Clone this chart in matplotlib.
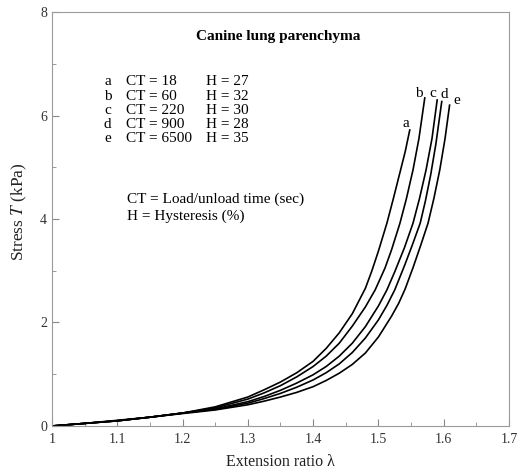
import matplotlib.pyplot as plt
from matplotlib.ticker import MultipleLocator

plt.rcParams['font.family'] = 'Liberation Serif'
plt.rcParams['mathtext.fontset'] = 'stix'

# extension ratio / stress (kPa) for each cycle time
lam_a = [1.00, 1.05, 1.10, 1.15, 1.20, 1.25, 1.30, 1.325, 1.35, 1.375, 1.40, 1.42, 1.44, 1.46,
         1.48, 1.49, 1.50, 1.513, 1.523, 1.533, 1.541, 1.548]
T_a = [0.00, 0.05, 0.11, 0.17, 0.25, 0.37, 0.56, 0.70, 0.85, 1.03, 1.25, 1.50, 1.80, 2.17,
       2.66, 3.00, 3.38, 3.92, 4.40, 4.90, 5.30, 5.72]

lam_b = [1.00, 1.05, 1.10, 1.15, 1.20, 1.25, 1.30, 1.325, 1.35, 1.375, 1.40, 1.42, 1.44, 1.46,
         1.48, 1.495, 1.51, 1.52, 1.533, 1.543, 1.553, 1.562, 1.571]
T_b = [0.00, 0.05, 0.10, 0.17, 0.25, 0.35, 0.52, 0.64, 0.78, 0.95, 1.15, 1.35, 1.60, 1.93,
       2.30, 2.63, 3.05, 3.40, 3.92, 4.40, 4.95, 5.55, 6.34]

lam_c = [1.00, 1.05, 1.10, 1.15, 1.20, 1.25, 1.30, 1.325, 1.35, 1.375, 1.40, 1.42, 1.44, 1.46,
         1.48, 1.50, 1.513, 1.525, 1.54, 1.553, 1.563, 1.573, 1.582, 1.590]
T_c = [0.00, 0.05, 0.10, 0.17, 0.25, 0.33, 0.47, 0.57, 0.69, 0.83, 0.99, 1.15, 1.35, 1.60,
       1.92, 2.32, 2.63, 2.98, 3.45, 3.92, 4.40, 4.95, 5.55, 6.30]

lam_d = [1.00, 1.05, 1.10, 1.15, 1.20, 1.25, 1.30, 1.325, 1.35, 1.375, 1.40, 1.42, 1.44, 1.46,
         1.48, 1.50, 1.513, 1.525, 1.54, 1.552, 1.564, 1.572, 1.580, 1.588, 1.597]
T_d = [0.00, 0.05, 0.10, 0.17, 0.25, 0.32, 0.44, 0.53, 0.63, 0.75, 0.89, 1.03, 1.20, 1.42,
       1.70, 2.05, 2.33, 2.63, 3.10, 3.50, 3.92, 4.35, 4.85, 5.45, 6.27]

lam_e = [1.00, 1.05, 1.10, 1.15, 1.20, 1.25, 1.30, 1.325, 1.35, 1.375, 1.40, 1.42, 1.44, 1.46,
         1.48, 1.50, 1.52, 1.531, 1.541, 1.553, 1.565, 1.576, 1.585, 1.594, 1.602, 1.609]
T_e = [0.00, 0.05, 0.10, 0.17, 0.24, 0.31, 0.41, 0.48, 0.56, 0.65, 0.76, 0.88, 1.02, 1.19,
       1.41, 1.72, 2.12, 2.37, 2.65, 3.06, 3.50, 3.92, 4.40, 4.95, 5.55, 6.20]

curve_ids = ['a', 'b', 'c', 'd', 'e']
ct = [18, 60, 220, 900, 6500]
hyst = [27, 32, 30, 28, 35]

curves = [(lam_a, T_a), (lam_b, T_b), (lam_c, T_c), (lam_d, T_d), (lam_e, T_e)]
label_offsets = [(-3, 4.5), (-4.3, 3), (-3, 5), (1.5, 5), (5, 3.5)]

fig = plt.figure(figsize=(5.17, 4.69), dpi=100)
ax = fig.add_axes([0.1006, 0.0917, 0.8839, 0.8827])

for cid, (x, y), off in zip(curve_ids, curves, label_offsets):
    ax.plot(x, y, color='black', lw=1.2, solid_joinstyle='round')
    ax.annotate(cid, (x[-1], y[-1]), xytext=off, textcoords='offset points',
                ha='center', va='center', fontsize=11)

ax.set_xlim(1, 1.7)
ax.set_ylim(0, 8)
ax.xaxis.set_minor_locator(MultipleLocator(0.05))
ax.yaxis.set_minor_locator(MultipleLocator(1))
ax.set_xticks([1, 1.1, 1.2, 1.3, 1.4, 1.5, 1.6, 1.7])
ax.set_xticklabels(['1', '1.1', '1.2', '1.3', '1.4', '1.5', '1.6', '1.7'])
ax.set_yticks([0, 2, 4, 6, 8])
ax.set_yticklabels(['0', '2', '4', '6', '8'])

ax.tick_params(which='both', direction='in', colors='#888888', labelcolor='#333333',
               labelsize=10)
ax.tick_params(which='major', length=5, width=0.8)
ax.tick_params(which='minor', length=3, width=0.6)
ax.tick_params(axis='x', pad=5)
for sp in ax.spines.values():
    sp.set_color('#9a9a9a')
    sp.set_linewidth(0.8)

ax.set_xlabel('Extension ratio λ', fontsize=11.5, color='#222222', labelpad=6)
ax.set_ylabel(r'Stress $\mathit{T}$ (kPa)', fontsize=12.5, color='#222222')
ax.yaxis.set_label_coords(-0.05, 0.517)

ax.text(1.221, 7.53, 'Canine lung parenchyma', fontsize=11, fontweight='bold',
        ha='left', va='center')

for i, cid in enumerate(curve_ids):
    yy = 6.65 - i * 0.275
    ax.text(1.085, yy, cid, fontsize=11, ha='center', va='center')
    ax.text(1.113, yy, f'CT = {ct[i]}', fontsize=11, ha='left', va='center')
    ax.text(1.236, yy, f'H = {hyst[i]}', fontsize=11, ha='left', va='center')

ax.text(1.115, 4.38, 'CT = Load/unload time (sec)', fontsize=11, ha='left', va='center')
ax.text(1.115, 4.05, 'H = Hysteresis (%)', fontsize=11, ha='left', va='center')

fig.savefig('out.png', dpi=100)
